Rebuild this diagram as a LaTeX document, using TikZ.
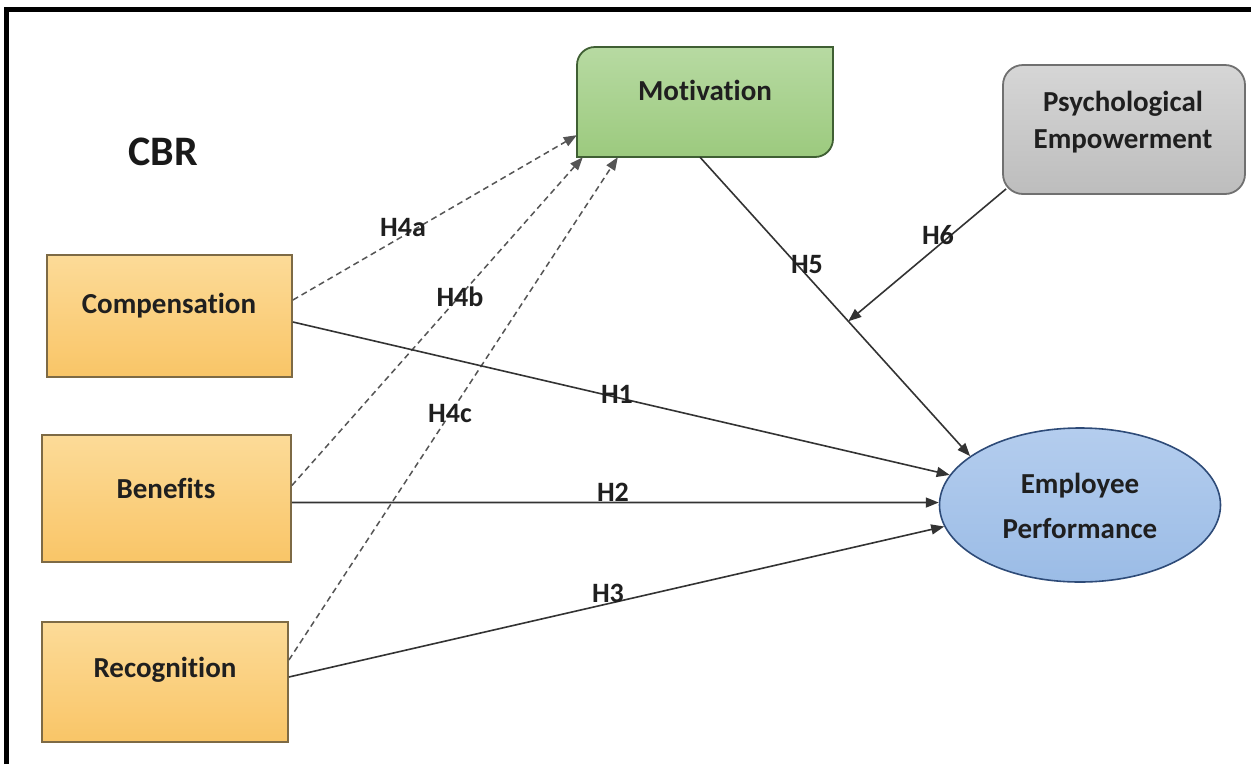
\documentclass[tikz,border=0pt]{standalone}
\usepackage{fontspec}
\setmainfont{Carlito}[RawFeature={-liga;-clig;-calt}]
\usetikzlibrary{arrows.meta,shapes.geometric}
\definecolor{orTop}{HTML}{FCDB98}
\definecolor{orBot}{HTML}{F9C567}
\definecolor{orEdge}{HTML}{7D6A45}
\definecolor{grTop}{HTML}{B7DAA2}
\definecolor{grBot}{HTML}{9CCA7E}
\definecolor{grEdge}{HTML}{3F5F33}
\definecolor{gyTop}{HTML}{D6D6D6}
\definecolor{gyBot}{HTML}{BDBDBD}
\definecolor{gyEdge}{HTML}{707070}
\definecolor{blTop}{HTML}{B4CDEE}
\definecolor{blBot}{HTML}{9BBCE6}
\definecolor{blEdge}{HTML}{2E4B78}
\definecolor{lineC}{HTML}{333333}
\definecolor{dashC}{HTML}{555555}
\begin{document}
\begin{tikzpicture}[x=1pt,y=-1pt,
  cbox/.style={draw=orEdge, line width=1.8pt, top color=orTop, bottom color=orBot, inner sep=0pt},
  btxt/.style={font=\fontsize{29}{34}\selectfont\bfseries, text=black!88, inner sep=0pt},
  lab/.style={font=\fontsize{28}{32}\selectfont\bfseries, text=black!88, inner sep=0pt},
  solidarr/.style={draw=lineC, line width=1.6pt, -{Triangle[length=13pt,width=10pt]}},
  dasharr/.style={draw=dashC, line width=1.5pt, dash pattern=on 6pt off 4pt, -{Triangle[length=13pt,width=10pt]}}
]
\useasboundingbox (0,0) rectangle (1251,764);
\fill[white] (0,0) rectangle (1251,764);
% frame
\draw[line width=5pt, line join=miter] (6,764) -- (6,9) -- (1251,9);

% CBR
\node[font=\fontsize{42}{48}\selectfont\bfseries, text=black!90, inner sep=0pt] (cbr) at (163,152) {CBR};

% left boxes
\node[cbox, minimum width=245pt, minimum height=122pt] (comp) at (169.5,316) {};
\node[btxt] (compT) at (169,306) {Compensation};
\node[cbox, minimum width=249pt, minimum height=127pt] (ben) at (166.5,498.5) {};
\node[btxt] (benT) at (166,488) {Benefits};
\node[cbox, minimum width=246pt, minimum height=120pt] (rec) at (165,682) {};
\node[btxt] (recT) at (165,670) {Recognition};

% Motivation
\node[minimum width=256pt, minimum height=110pt, inner sep=0pt] (mot) at (705,102) {};
\draw[draw=grEdge, line width=1.8pt, top color=grTop, bottom color=grBot]
  (595,47) -- (833,47) -- (833,139) .. controls (833,149) and (825,157) .. (815,157)
  -- (577,157) -- (577,65) .. controls (577,55) and (585,47) .. (595,47) -- cycle;
\node[btxt] (motT) at (705,90) {Motivation};

% Psychological Empowerment
\node[draw=gyEdge, line width=1.8pt, rounded corners=20pt, top color=gyTop, bottom color=gyBot,
      minimum width=242pt, minimum height=129pt, inner sep=0pt] (ps) at (1124,129.5) {};
\node[btxt, align=center, font=\fontsize{29}{37}\selectfont\bfseries] (psT) at (1123,122) {Psychological\\Empowerment};

% Employee Performance
\node[draw=blEdge, line width=1.6pt, ellipse, top color=blTop, bottom color=blBot,
      minimum width=281pt, minimum height=154pt, inner sep=0pt] (ep) at (1080,505) {};
\node[btxt, align=center, font=\fontsize{29}{45}\selectfont\bfseries] (epT) at (1080,506) {Employee\\Performance};

% dashed H4 arrows
\draw[dasharr] ([yshift=16pt]comp.east) -- ([yshift=22pt]mot.south west);
\draw[dasharr] ([yshift=13pt]ben.east) -- ([xshift=6pt]mot.south west);
\draw[dasharr] ([yshift=22pt]rec.east) -- ([xshift=41pt]mot.south west);

% solid arrows
\draw[solidarr] ([yshift=-6pt]comp.east) -- (ep.167);
\draw[solidarr] ([yshift=-4pt]ben.east) -- (ep.179);
\draw[solidarr] ([yshift=5pt]rec.east) -- (ep.189);
\draw[solidarr] ([xshift=-5pt]mot.south) -- coordinate[pos=0.549] (mid) (ep.156.8);
\draw[solidarr] ([xshift=4pt,yshift=6pt]ps.south west) -- (mid);

% labels
\node[lab] (h4a) at (403,228) {H4a};
\node[lab] (h4b) at (460,297) {H4b};
\node[lab] (h4c) at (450,414) {H4c};
\node[lab] (h1) at (617,394) {H1};
\node[lab] (h2) at (613,492) {H2};
\node[lab] (h3) at (608,593) {H3};
\node[lab] (h5) at (807,265) {H5};
\node[lab] (h6) at (938,235) {H6};
\end{tikzpicture}
\end{document}
